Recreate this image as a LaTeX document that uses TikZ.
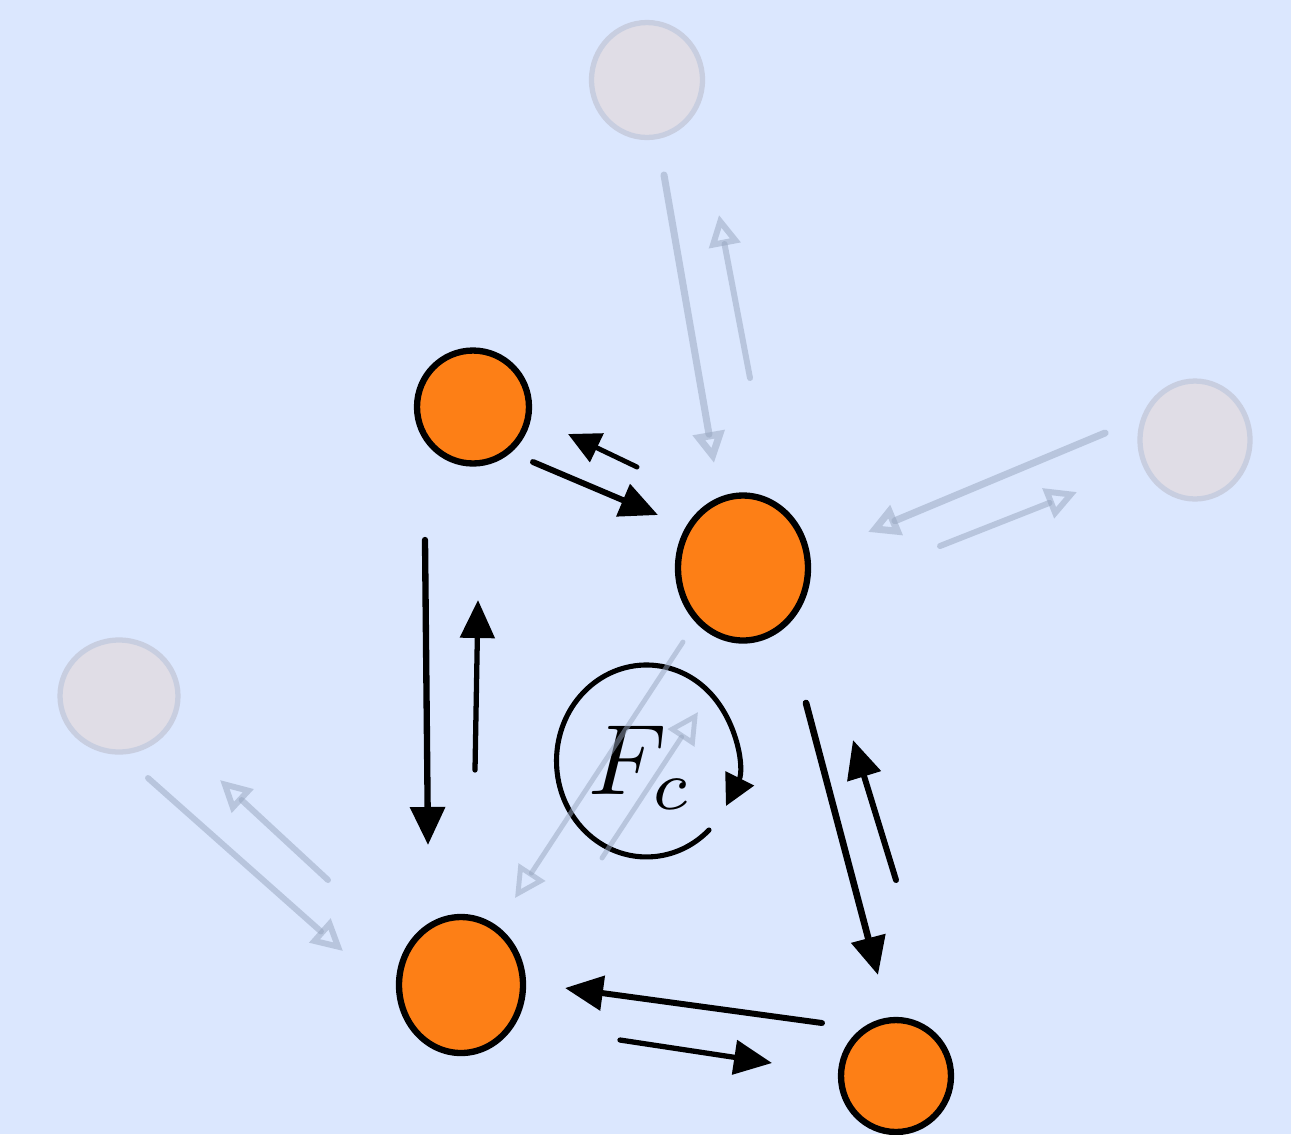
\documentclass[tikz,border=0pt]{standalone}
\usetikzlibrary{arrows.meta,shapes.geometric}
\definecolor{bg}{RGB}{219,231,254}
\definecolor{org}{RGB}{253,127,22}
\definecolor{ghostfill}{RGB}{224,221,230}
\definecolor{ghostline}{RGB}{200,206,224}
\definecolor{ghostarrow}{RGB}{150,165,190}
\begin{document}
\begin{tikzpicture}[x=0.02cm,y=-0.02cm,
  ball/.style={ellipse, fill=org, draw=black, line width=3.6pt, inner sep=0pt},
  ghost/.style={ellipse, fill=ghostfill, draw=ghostline, line width=3pt, inner sep=0pt},
  force/.style={draw=black, line width=3.2pt, line cap=round, -{Triangle[length=0.76cm,width=0.68cm]}},
  smallforce/.style={force, -{Triangle[length=0.64cm,width=0.62cm]}},
  faint/.style={draw=ghostarrow, draw opacity=0.5, line width=3.4pt, line cap=round, -{Triangle[open,length=0.62cm,width=0.62cm]}},
]
\fill[bg] (0,0) rectangle (1291,1134);
\useasboundingbox (0,0) rectangle (1291,1134);

% ghost particles
\node[ghost, minimum width=2.22cm, minimum height=2.3cm] (T) at (647,80) {};
\node[ghost, minimum width=2.2cm, minimum height=2.36cm] (R) at (1195,440) {};
\node[ghost, minimum width=2.36cm, minimum height=2.24cm] (L) at (119,696) {};

% main particles
\node[ball, minimum width=2.24cm, minimum height=2.26cm] (A) at (473,407) {};
\node[ball, minimum width=2.6cm, minimum height=2.9cm] (B) at (743,568) {};
\node[ball, minimum width=2.48cm, minimum height=2.72cm] (C) at (461,985) {};
\node[ball, minimum width=2.2cm, minimum height=2.24cm] (D) at (896,1076) {};

% circulation label
\node[inner sep=0pt, scale=5.7] (Fc) at (641,768) {$F_c$};
\draw[draw=black, line width=2.9pt, line cap=round, -{Triangle[length=0.62cm,width=0.62cm]}]
  ([shift={(68,62)}]Fc.center) arc[start angle=-46, end angle=-388, x radius=1.8cm, y radius=1.92cm];

% black forces
\draw[force, line width=3.4pt] ([shift={(60,55)}]A.center) -- ([shift={(-85,-53)}]B.center);
\draw[smallforce, line width=2.8pt] ([shift={(-106,-101)}]B.center) -- ([shift={(95,27)}]A.center);
\draw[force, line width=3.6pt] ([shift={(-48,133)}]A.center) -- ([shift={(-33,-140)}]C.center);
\draw[force, line width=3pt] ([shift={(14,-215)}]C.center) -- ([shift={(5,193)}]A.center);
\draw[force, line width=3.8pt] ([shift={(63,135)}]B.center) -- ([shift={(-18,-101)}]D.center);
\draw[force, line width=3.4pt] ([shift={(0,-196)}]D.center) -- ([shift={(110,172)}]B.center);
\draw[force, line width=3.4pt] ([shift={(-74,-53)}]D.center) -- ([shift={(104,3)}]C.center);
\draw[force, line width=3pt] ([shift={(159,55)}]C.center) -- ([shift={(-124,-13)}]D.center);

% faint forces
\draw[faint, line width=4pt] ([shift={(17,95)}]T.center) -- ([shift={(-29,-105)}]B.center);
\draw[faint] ([shift={(7,-190)}]B.center) -- ([shift={(72,135)}]T.center);
\draw[faint, line width=4pt] ([shift={(-90,-7)}]R.center) -- ([shift={(125,-36)}]B.center);
\draw[faint] ([shift={(197,-22)}]B.center) -- ([shift={(-118,52)}]R.center);
\draw[faint] ([shift={(29,82)}]L.center) -- ([shift={(-118,-34)}]C.center);
\draw[faint] ([shift={(-133,-105)}]C.center) -- ([shift={(101,84)}]L.center);
\draw[faint, line width=2.8pt] ([shift={(-60,74)}]B.center) -- ([shift={(54,-87)}]C.center);
\draw[faint, line width=2.8pt] ([shift={(141,-127)}]C.center) -- ([shift={(-45,144)}]B.center);
\end{tikzpicture}
\end{document}
